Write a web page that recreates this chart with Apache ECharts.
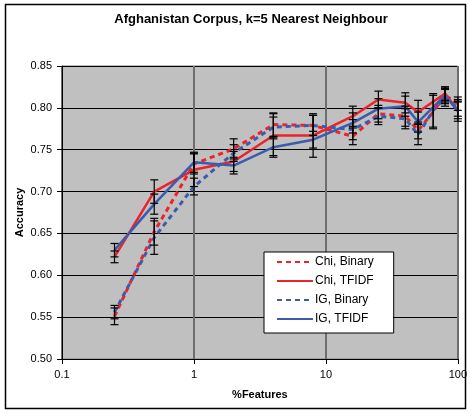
<!DOCTYPE html>
<html>
<head>
<meta charset="utf-8">
<script src="https://cdn.jsdelivr.net/npm/echarts@6/dist/echarts.min.js"></script>
<style>html,body{margin:0;padding:0;background:#fff}#c{width:470px;height:413px}</style>
</head>
<body>
<div id="c"></div>
<script>
// ---- data ----
const titleText = 'Afghanistan Corpus, k=5 Nearest Neighbour';
const xName = '%Features';
const yName = 'Accuracy';
const seriesNames = ['Chi, Binary', 'Chi, TFIDF', 'IG, Binary', 'IG, TFIDF'];

const xBinary = [0.25, 0.5, 1, 2, 4, 8, 16, 25, 40, 50, 65, 80, 100];
const chiBinary = [0.551, 0.652, 0.733, 0.751, 0.780, 0.779, 0.766, 0.793, 0.790, 0.773, 0.795, 0.815, 0.805];
const chiBinaryErr = [0.010, 0.016, 0.012, 0.012, 0.014, 0.012, 0.010, 0.010, 0.012, 0.010, 0.020, 0.010, 0.008];
const igBinary = [0.556, 0.645, 0.706, 0.746, 0.777, 0.779, 0.774, 0.790, 0.787, 0.768, 0.797, 0.812, 0.800];
const igBinaryErr = [0.008, 0.020, 0.010, 0.010, 0.012, 0.012, 0.012, 0.010, 0.012, 0.012, 0.020, 0.010, 0.010];

const xTfidf = [0.25, 0.5, 1, 2, 4, 8, 16, 25, 40, 50, 80, 100];
const chiTfidf = [0.622, 0.700, 0.726, 0.736, 0.767, 0.767, 0.790, 0.810, 0.806, 0.795, 0.817, 0.797];
const chiTfidfErr = [0.007, 0.014, 0.020, 0.012, 0.026, 0.026, 0.012, 0.010, 0.012, 0.014, 0.008, 0.010];
const igTfidf = [0.630, 0.685, 0.735, 0.731, 0.753, 0.762, 0.782, 0.799, 0.802, 0.783, 0.815, 0.796];
const igTfidfErr = [0.008, 0.012, 0.012, 0.010, 0.010, 0.010, 0.012, 0.012, 0.012, 0.012, 0.008, 0.012];

const xTicks = [0.1, 1, 10, 100];
const yMin = 0.5, yMax = 0.85, yStep = 0.05;

// ---- build ----
const RED = '#ee2229', BLUE = '#3b5cad';
const FONT = 'Liberation Sans, Arial, sans-serif';
const pairs = (xs, ys) => xs.map((x, i) => [x, ys[i]]);
const triples = (xs, ys, es) => xs.map((x, i) => [x, ys[i], es[i]]);

function errSeries(xs, ys, es) {
  return {
    type: 'custom', silent: true, z: 5,
    data: triples(xs, ys, es),
    encode: { x: 0, y: 1 },
    renderItem: function (params, api) {
      const x = api.value(0), y = api.value(1), e = api.value(2);
      const top = api.coord([x, y + e]);
      const bot = api.coord([x, y - e]);
      const w = 4;
      const st = { stroke: '#000', lineWidth: 1.2 };
      return { type: 'group', children: [
        { type: 'line', shape: { x1: top[0], y1: top[1], x2: bot[0], y2: bot[1] }, style: st },
        { type: 'line', shape: { x1: top[0] - w, y1: top[1], x2: top[0] + w, y2: top[1] }, style: st },
        { type: 'line', shape: { x1: bot[0] - w, y1: bot[1], x2: bot[0] + w, y2: bot[1] }, style: st }
      ]};
    }
  };
}
function lineSeries(name, xs, ys, color, dashed) {
  return {
    name: name, type: 'line', data: pairs(xs, ys), symbol: 'none', z: 3,
    lineStyle: { color: color, width: dashed ? 3 : 2.5, type: dashed ? [5, 4] : 'solid' },
    itemStyle: { color: color }
  };
}

const chart = echarts.init(document.getElementById('c'), null, { renderer: 'canvas' });
chart.setOption({
  animation: false,
  backgroundColor: '#fff',
  title: { text: titleText, left: 246, textAlign: 'center', top: 8,
    textStyle: { fontFamily: FONT, fontSize: 13, fontWeight: 'bold', color: '#000' } },
  graphic: [{ type: 'rect', shape: { x: 5.5, y: 4.5, width: 460, height: 404 },
    style: { fill: 'none', stroke: '#000', lineWidth: 1.5 }, z: 0 }],
  grid: { left: 62, right: 12, top: 66, bottom: 54, show: true,
    backgroundColor: '#c0c0c0', borderColor: '#808080', borderWidth: 1 },
  legend: {
    orient: 'vertical', left: 264, top: 252,
    backgroundColor: '#fff', borderColor: '#000', borderWidth: 1,
    padding: [4, 20, 8, 12], itemWidth: 36, itemHeight: 14, itemGap: 7,
    itemStyle: { opacity: 0 },
    textStyle: { fontFamily: FONT, fontSize: 12, color: '#000', padding: [0, 0, 0, -3] },
    data: seriesNames
  },
  xAxis: {
    type: 'log', logBase: 10, min: xTicks[0], max: xTicks[xTicks.length - 1],
    name: xName, nameLocation: 'middle', nameGap: 30, nameMoveOverlap: false,
    nameTextStyle: { fontFamily: FONT, fontSize: 11, fontWeight: 'bold', color: '#000' },
    axisLine: { lineStyle: { color: '#000', width: 1 } },
    axisTick: { show: true, inside: false, length: 5, lineStyle: { color: '#000' } },
    minorTick: { show: false },
    axisLabel: { fontFamily: FONT, fontSize: 11, color: '#000', margin: 10,
      formatter: v => String(+v.toPrecision(3)) },
    splitLine: { show: true, lineStyle: { color: '#6e6e6e', width: 2 } }
  },
  yAxis: {
    type: 'value', min: yMin, max: yMax, interval: yStep,
    name: yName, nameLocation: 'middle', nameGap: 37, nameMoveOverlap: false,
    nameTextStyle: { fontFamily: FONT, fontSize: 11, fontWeight: 'bold', color: '#000' },
    axisLine: { show: true, lineStyle: { color: '#000', width: 1 } },
    axisTick: { show: true, inside: false, length: 5, lineStyle: { color: '#000' } },
    axisLabel: { fontFamily: FONT, fontSize: 11, color: '#000', margin: 10,
      formatter: v => v.toFixed(2) },
    splitLine: { show: true, lineStyle: { color: '#000', width: 1 } }
  },
  series: [
    lineSeries(seriesNames[0], xBinary, chiBinary, RED, true),
    lineSeries(seriesNames[1], xTfidf, chiTfidf, RED, false),
    lineSeries(seriesNames[2], xBinary, igBinary, BLUE, true),
    lineSeries(seriesNames[3], xTfidf, igTfidf, BLUE, false),
    errSeries(xBinary, chiBinary, chiBinaryErr),
    errSeries(xTfidf, chiTfidf, chiTfidfErr),
    errSeries(xBinary, igBinary, igBinaryErr),
    errSeries(xTfidf, igTfidf, igTfidfErr)
  ]
});
</script>
</body>
</html>
